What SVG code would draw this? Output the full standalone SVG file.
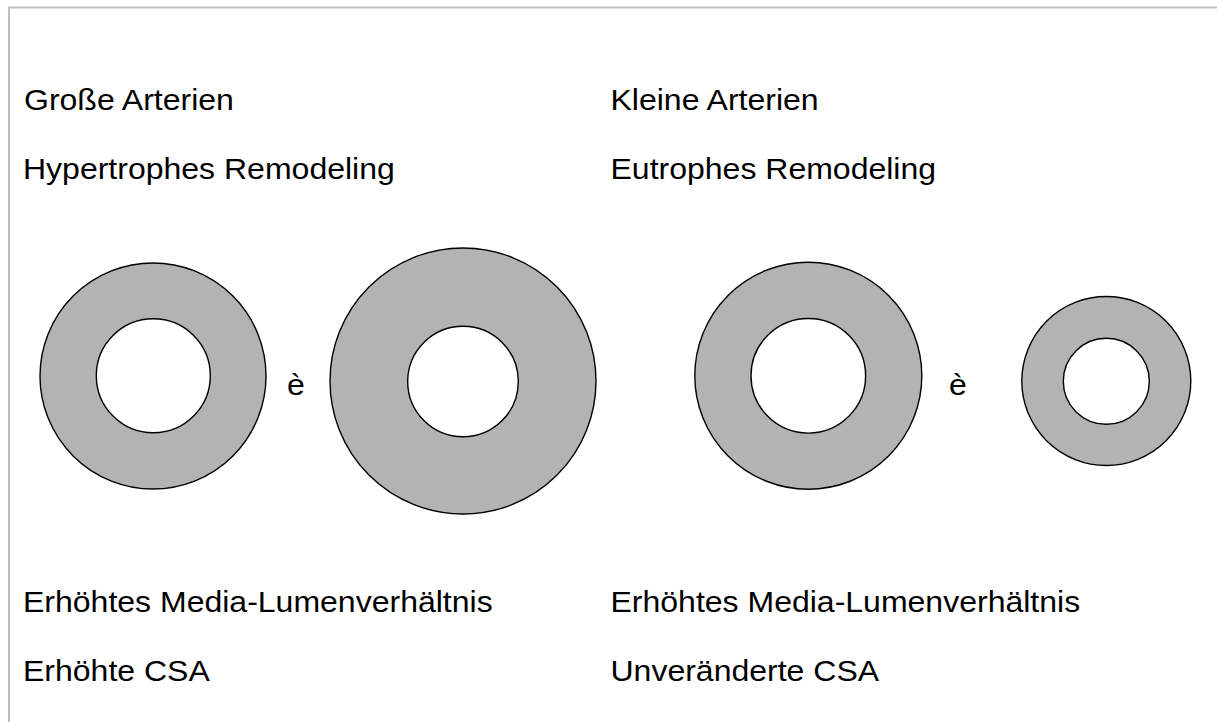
<svg xmlns="http://www.w3.org/2000/svg" width="1217" height="722" viewBox="0 0 1217 722">
<style>
text { font-family: "Liberation Sans", Arial, sans-serif; font-size: 30px; fill: #000; }
.wall { fill: #b3b3b3; stroke: #000; stroke-width: 1.4; }
.lumen { fill: #fff; stroke: #000; stroke-width: 1.4; }
</style>
<rect x="0" y="0" width="1217" height="722" fill="#fff"/>
<path d="M9 722 V7.5 H1217" fill="none" stroke="#bfbfbf" stroke-width="2"/>
<g id="labels-left">
<text transform="translate(24,109.5) scale(1.067,1)">Große Arterien</text>
<text transform="translate(23,178.5) scale(1.067,1)">Hypertrophes Remodeling</text>
<text transform="translate(23,612) scale(1.067,1)">Erhöhtes Media-Lumenverhältnis</text>
<text transform="translate(23,681) scale(1.067,1)">Erhöhte CSA</text>
</g>
<g id="labels-right">
<text transform="translate(610.5,109.5) scale(1.067,1)">Kleine Arterien</text>
<text transform="translate(610.5,178.5) scale(1.067,1)">Eutrophes Remodeling</text>
<text transform="translate(610.5,612) scale(1.067,1)">Erhöhtes Media-Lumenverhältnis</text>
<text transform="translate(610.5,681) scale(1.067,1)">Unveränderte CSA</text>
</g>
<g id="vessel-large-before">
<circle class="wall" cx="153" cy="376" r="113"/>
<circle class="lumen" cx="153.3" cy="375.7" r="57"/>
</g>
<g id="arrow-left"><text transform="translate(287,395) scale(1.067,1)">è</text></g>
<g id="vessel-large-after">
<circle class="wall" cx="463" cy="381" r="133"/>
<circle class="lumen" cx="463" cy="381.5" r="55.3"/>
</g>
<g id="vessel-small-before">
<circle class="wall" cx="808.3" cy="375.7" r="113.5"/>
<circle class="lumen" cx="808.3" cy="375.8" r="57.3"/>
</g>
<g id="arrow-right"><text transform="translate(949,395) scale(1.067,1)">è</text></g>
<g id="vessel-small-after">
<circle class="wall" cx="1106.3" cy="381" r="84.5"/>
<circle class="lumen" cx="1106.3" cy="381.3" r="43"/>
</g>
</svg>
